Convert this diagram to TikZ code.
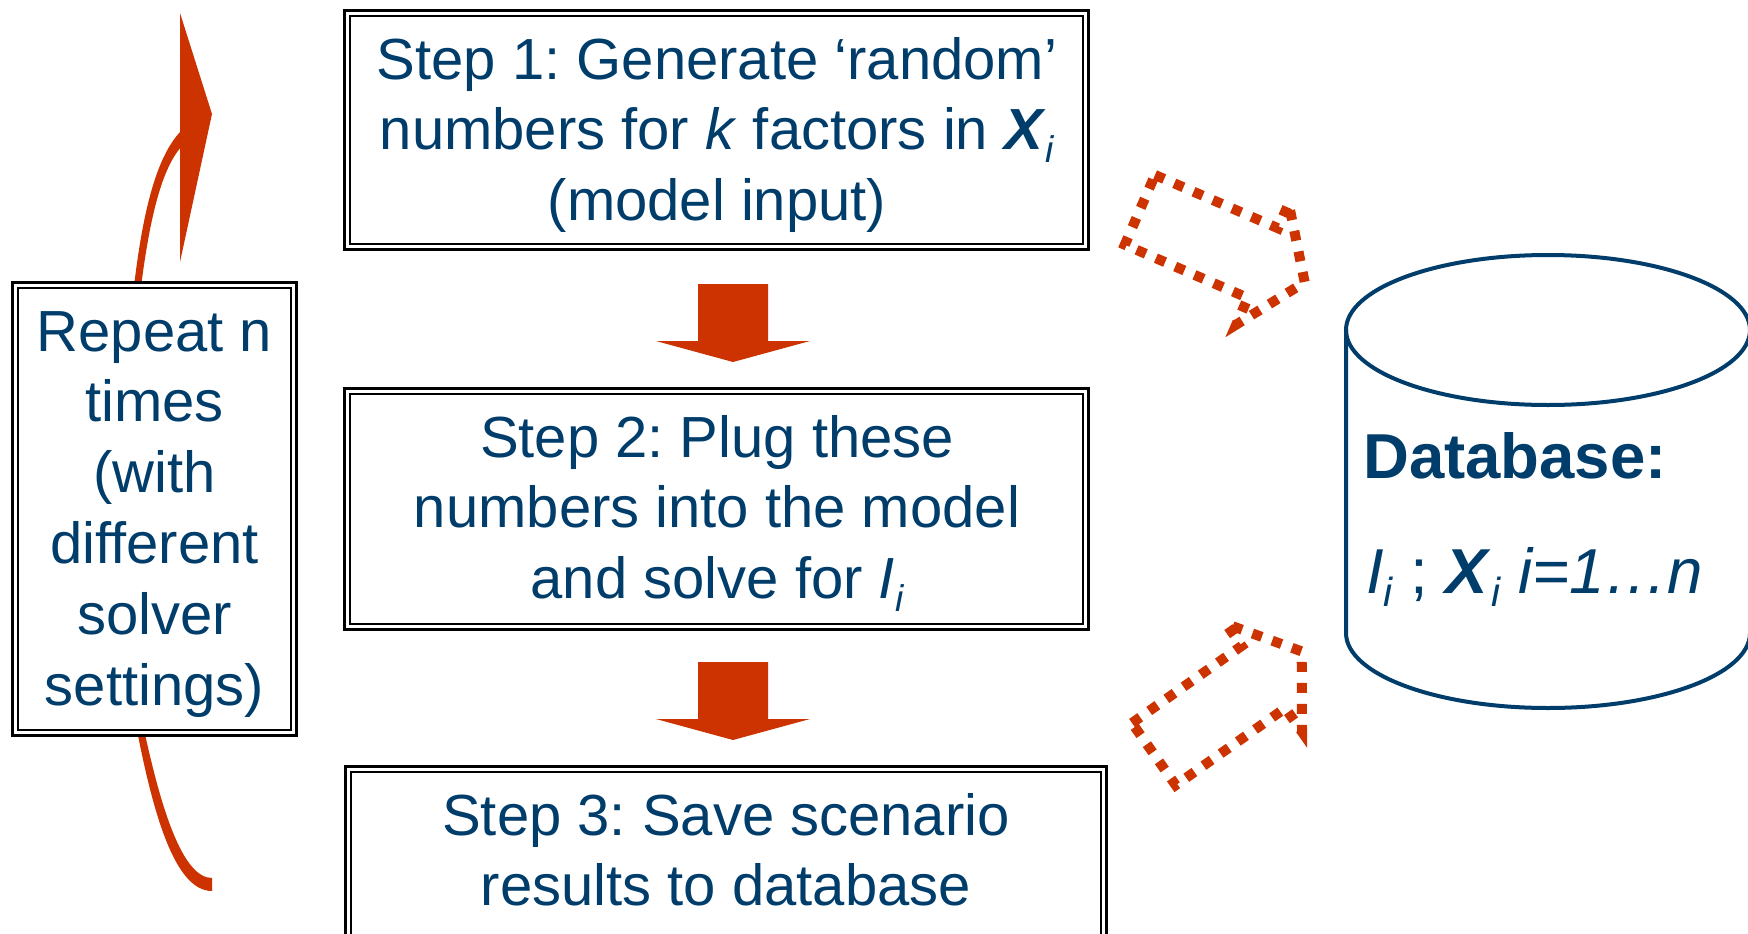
\documentclass[tikz,border=0pt]{standalone}
\usepackage{fontspec}
\setmainfont{Liberation Sans}
\usetikzlibrary{calc}
\definecolor{ink}{HTML}{003D6B}
\definecolor{flame}{HTML}{CC3300}
\frenchspacing
% small italic subscript i, set below the baseline
\newcommand\subi{\raisebox{-0.22em}{\fontsize{0.64em}{0.7em}\selectfont\itshape i}}
\tikzset{
  stepframe/.style={rectangle, draw=black, line width=3pt, fill=white, inner sep=0pt, outer sep=0pt},
  innerline/.style={draw=black, line width=2pt},
  steptext/.style={text=ink, font=\fontsize{58}{70.8}\selectfont, align=center, inner sep=0pt, anchor=north},
  dbtext/.style={text=ink, font=\fontsize{63.5}{76}\selectfont, inner sep=0pt, anchor=base west},
  flowfill/.style={fill=flame},
  dotline/.style={draw=flame, line width=10pt, dash pattern=on 10pt off 11pt},
  pics/downarrow/.style={code={
    \fill[flowfill] (-35,0) -- (35,0) -- (35,57) -- (77,57) -- (0,78) -- (-77,57) -- (-35,57) -- cycle;}},
  pics/hollowarrow/.style={code={
    \draw[dotline] (0,0) -- (134,0) -- (134,-27) -- (180,39) -- (134,105) -- (134,76) -- (0,76) -- cycle;}},
}
\begin{document}
\begin{tikzpicture}[x=1pt, y=-1pt]
\useasboundingbox (0,0) rectangle (1748,934);
\clip (0,0) rectangle (1748,934);

% loop arrow around the repeat box: upper band with its head, lower tail
\fill[flame] (133,295) .. controls (143,205) and (158,155) .. (181,131)
  -- (181,147) .. controls (163,168) and (150,212) .. (140,295) -- cycle;
\fill[flame] (180,13) -- (212,114) -- (180,262) -- cycle;
\fill[flame] (135,720) .. controls (153,815) and (175,891) .. (212,891)
  -- (212,878) .. controls (183,878) and (161,811) .. (142,720) -- cycle;

% framed boxes
\node[stepframe, minimum width=744pt, minimum height=239pt] (s1) at (716.5,130) {};
\node[stepframe, minimum width=744pt, minimum height=241pt] (s2) at (716.5,509) {};
\node[stepframe, minimum width=761pt, minimum height=427pt] (s3) at (726,980) {};
\node[stepframe, minimum width=284pt, minimum height=453pt] (rep) at (154.5,509) {};
\foreach \b in {s1,s2,s3,rep}
  \draw[innerline] ([shift={(5.8,5.8)}]\b.north west) rectangle ([shift={(-5.8,-5.8)}]\b.south east);

% box texts
\node[steptext] (t1) at (717,29.4) {\strut Step 1: Generate ‘random’\\\strut numbers for \textit{k} factors in \textbf{\textit{X}}\subi\\\strut (model input)};
\node[steptext] (t2) at (717,407.4) {\strut Step 2: Plug these\\\strut numbers into the model\\\strut and solve for \textit{I}\subi};
\node[steptext] (t3) at (726,785.4) {\strut Step 3: Save scenario\\\strut results to database};
\node[steptext] (trep) at (154.5,301.4) {\strut Repeat n\\\strut times\\\strut (with\\\strut different\\\strut solver\\\strut settings)};

% block arrows between the steps
\pic at (733,284) {downarrow};
\pic at (733,662) {downarrow};

% dotted hollow arrows towards the database
\pic[rotate=-23.4] at (1155,175) {hollowarrow};
\pic[rotate=35.1] at (1132,723) {hollowarrow};

% database cylinder
\begin{scope}[draw=ink, line width=4pt]
  \draw (1548,330) ellipse [x radius=202pt, y radius=75pt];
  \draw (1750,330) -- (1750,633);
  \draw (1346,330) -- (1346,633) arc[start angle=180, end angle=360, x radius=202pt, y radius=75pt];
\end{scope}
\node[dbtext, font=\fontsize{63.5}{76}\selectfont\bfseries] (db1) at (1363,478) {Database:};
\node[dbtext] (db2) at (1366,593) {\textit{I}\subi{} ; \textbf{\textit{X}}\subi{} \textit{i=1…n}};
\end{tikzpicture}
\end{document}
